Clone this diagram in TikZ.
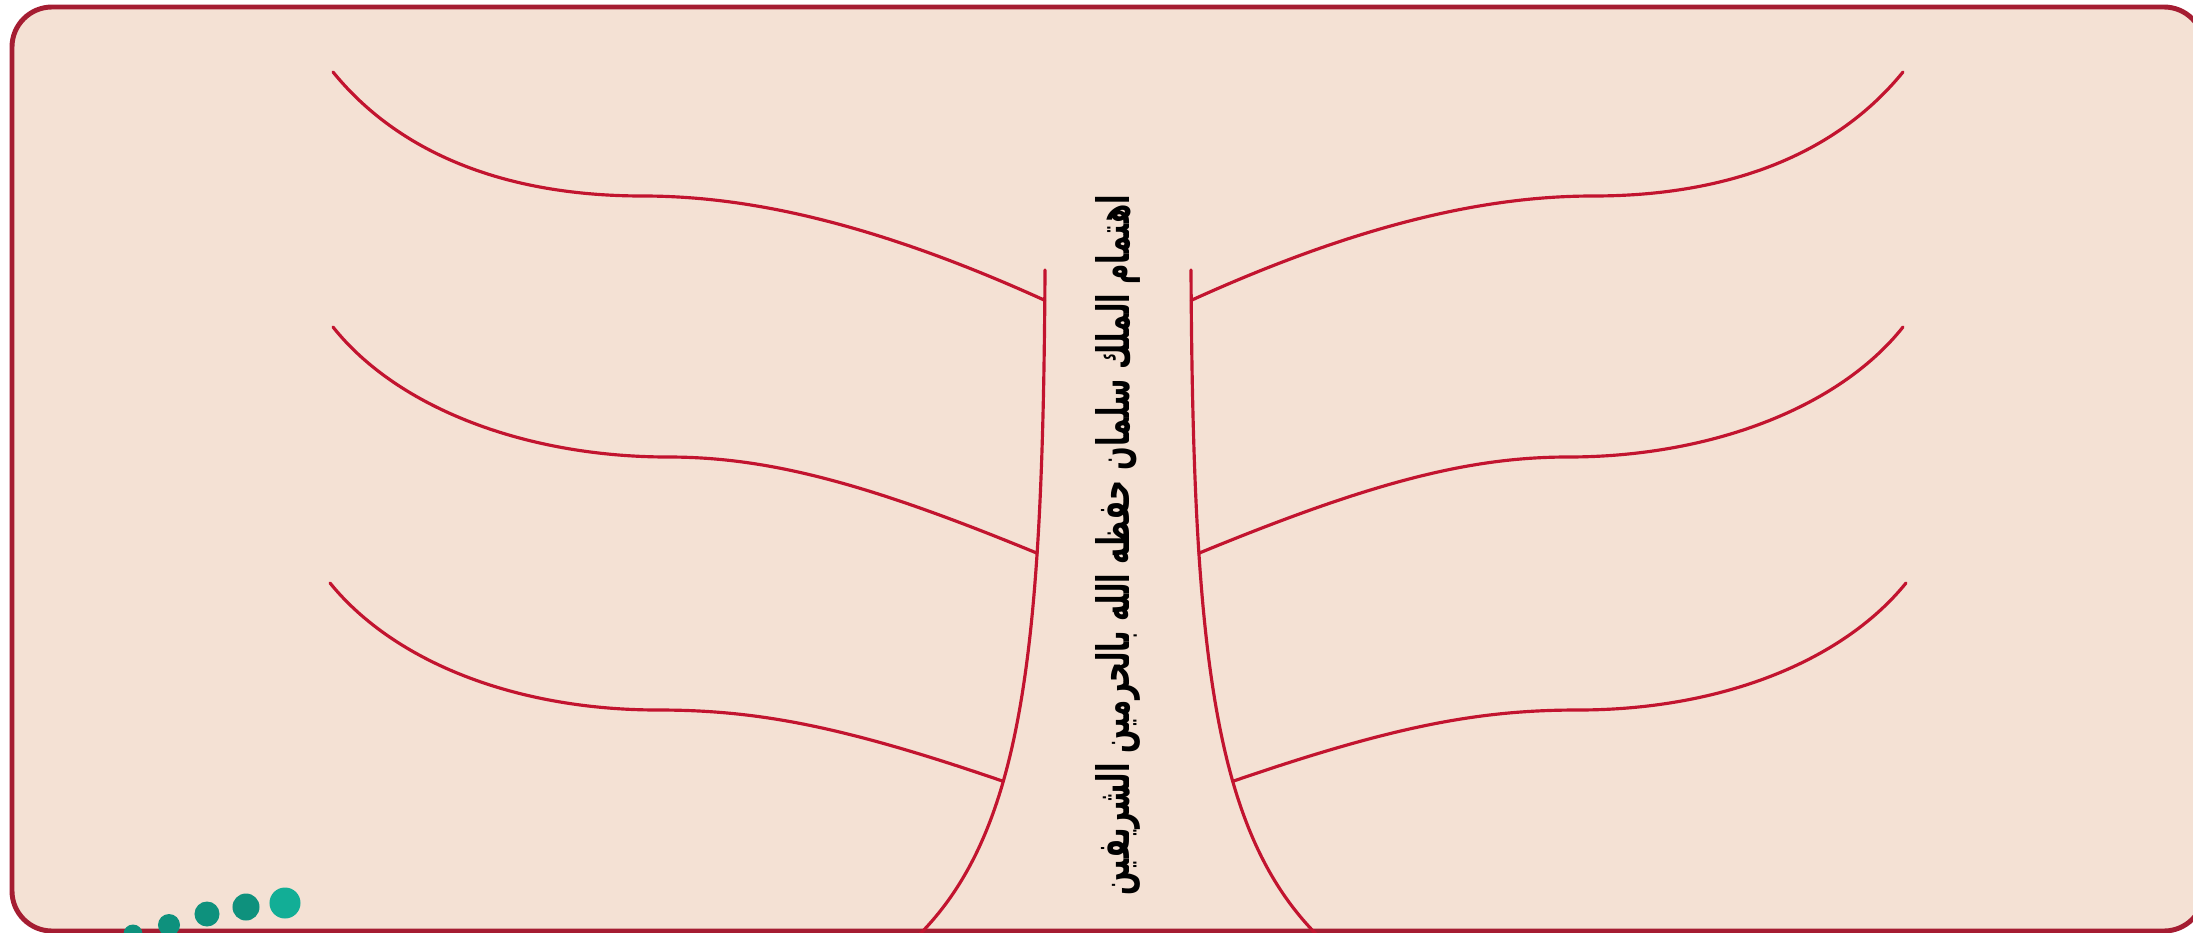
\documentclass[tikz,border=0pt]{standalone}
\usepackage{graphicx}
\usepackage{fontspec}
\newfontfamily\arabicfont[Script=Arabic]{DejaVu Sans}
\TeXXeTstate=1
\definecolor{boxfill}{HTML}{F4E1D4}
\definecolor{boxline}{HTML}{A51D32}
\definecolor{branchred}{HTML}{C2142F}
\definecolor{dotdark}{HTML}{0E917D}
\definecolor{dotlight}{HTML}{12AE96}

\begin{document}
\begin{tikzpicture}[x=0.01cm, y=-0.01cm,
    branch/.style={draw=branchred, line width=0.9pt, line cap=round},
    dot/.style={fill=#1}]
  \useasboundingbox (0,0) rectangle (2193,933);
  \begin{scope}
    \clip (0,0) rectangle (2193,933);
    % panel
    \draw[boxline, line width=1.4pt, fill=boxfill, rounded corners=0.4cm] (12,7) rectangle (2204,931);
    % trunk and branches, left half mirrored to the right
    \foreach \s/\side in {1/l, -1/r}{
      \begin{scope}[shift={(1118,0)}, xscale=\s]
        \coordinate (\side top) at (-73,270);
        \coordinate (\side foot) at (-199,935);
        \draw[branch] (\side top) .. controls (-75,650) and (-95,830) .. (\side foot)
          coordinate[pos=0.027] (\side j1)
          coordinate[pos=0.29] (\side j2)
          coordinate[pos=0.63] (\side j3);
        \coordinate (\side s1) at (-785,72);
        \coordinate (\side m1) at (-475,196);
        \coordinate (\side s2) at (-785,327);
        \coordinate (\side m2) at (-450,457);
        \coordinate (\side s3) at (-788,583);
        \coordinate (\side m3) at (-460,710);
        \draw[branch] (\side s1) .. controls +(65,80) and +(-140,0) .. (\side m1)
          .. controls +(100,0) and +(-176,-80) .. (\side j1);
        \draw[branch] (\side s2) .. controls +(65,82) and +(-140,0) .. (\side m2)
          .. controls +(100,0) and +(-170,-70) .. (\side j2);
        \draw[branch] (\side s3) .. controls +(65,80) and +(-140,0) .. (\side m3)
          .. controls +(100,0) and +(-160,-55) .. (\side j3);
      \end{scope}
    }
    % title along the trunk
    \node[rotate=90, inner sep=0pt] (title) at (1118,545)
      {\resizebox{7cm}{0.34cm}{\arabicfont\bfseries\beginR اهتمام الملك سلمان حفظه الله بالحرمين الشريفين\endR}};
    % dots
    \foreach \cx/\cy/\r/\c in {133/934/0.95mm/dotdark, 169/925/1.1mm/dotdark, 207/914/1.25mm/dotdark,
        246/907/1.35mm/dotdark, 285/903/1.55mm/dotlight}
      \fill[dot=\c] (\cx,\cy) circle (\r);
  \end{scope}
\end{tikzpicture}
\end{document}
